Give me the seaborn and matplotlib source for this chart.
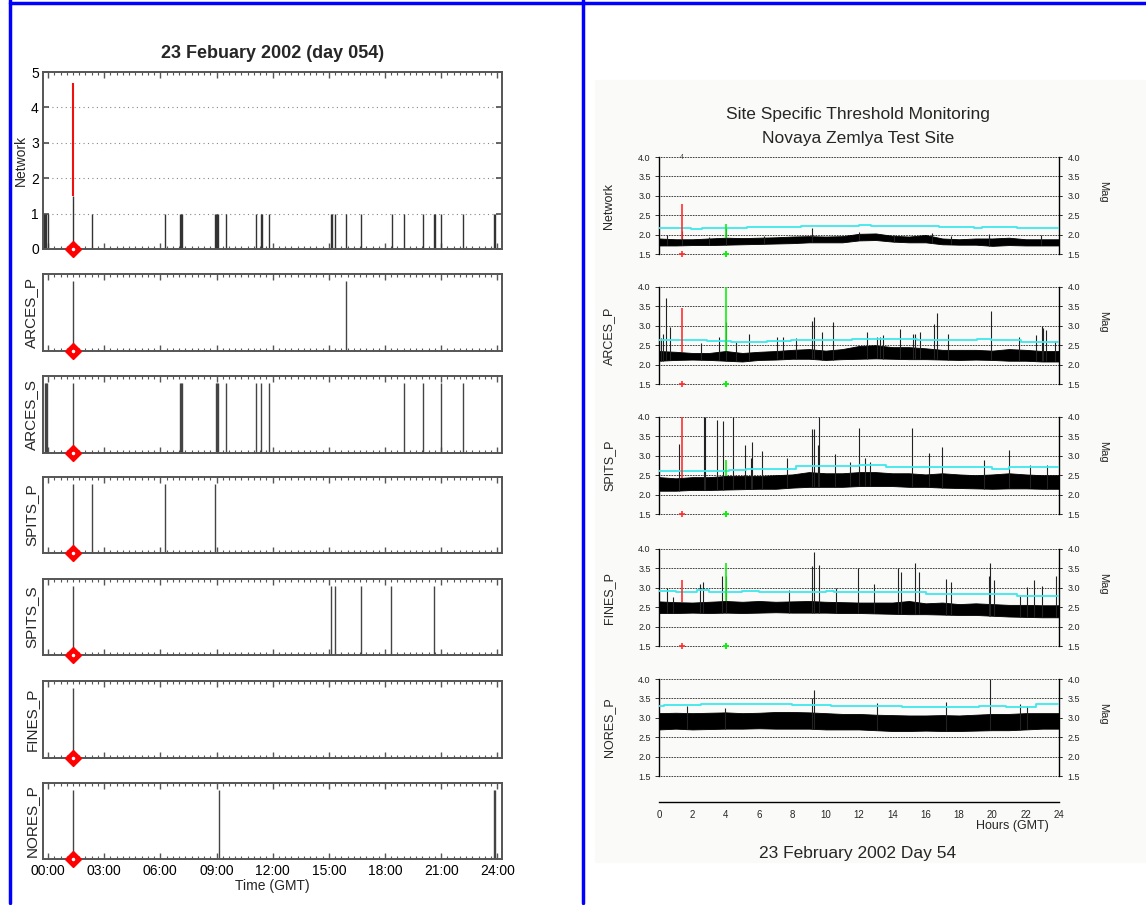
import numpy as np
import matplotlib
matplotlib.use("Agg")
import matplotlib.pyplot as plt
from matplotlib.patches import Rectangle
from matplotlib.lines import Line2D
from matplotlib.ticker import MultipleLocator
import seaborn as sns

sns.set_theme(style="white")
plt.rcParams['font.family'] = ['Liberation Sans', 'DejaVu Sans']

# ---------------- left side: detections per station ----------------
event_hour = 1.33
network_event_base = 1.5
network_event_top = 4.7

network_hours = [-0.21, -0.14, -0.09, 0.02, 2.35, 6.26, 7.03, 7.08, 7.17, 8.90, 8.95, 9.00,
                 9.09, 9.48, 11.12, 11.35, 11.42, 11.80, 15.12, 15.18, 15.34, 15.94, 16.73,
                 18.36, 19.04, 20.05, 20.60, 20.66, 21.01, 22.17, 23.81, 23.86]
arces_p_hours = [1.33, 15.93]
arces_s_hours = [-0.18, -0.11, -0.05, 1.33, 7.03, 7.08, 7.17, 8.95, 9.00, 9.07, 9.48,
                 11.12, 11.40, 11.80, 19.04, 20.05, 21.00, 22.17]
spits_p_hours = [1.33, 2.35, 6.26, 8.93]
spits_s_hours = [1.33, 15.12, 15.34, 16.73, 18.33, 20.60]
fines_p_hours = [1.33]
nores_p_hours = [1.33, 9.13, 23.81, 23.86]

left_names = ["ARCES_P", "ARCES_S", "SPITS_P", "SPITS_S", "FINES_P", "NORES_P"]
left_hours = [arces_p_hours, arces_s_hours, spits_p_hours, spits_s_hours, fines_p_hours, nores_p_hours]

# ---------------- right side: threshold monitoring (Mag) ----------------
hours = list(range(25))

net_low = [1.72, 1.72, 1.73, 1.73, 1.74, 1.75, 1.76, 1.77, 1.78, 1.80, 1.80, 1.80, 1.85,
           1.86, 1.82, 1.80, 1.80, 1.75, 1.74, 1.74, 1.71, 1.73, 1.72, 1.72, 1.72]
net_high = [1.90, 1.88, 1.88, 1.90, 1.92, 1.91, 1.92, 1.93, 1.95, 1.96, 1.95, 1.96, 2.02,
            2.03, 1.97, 1.95, 1.99, 1.90, 1.88, 1.90, 1.90, 1.92, 1.88, 1.88, 1.88]
net_thr_x = [0, 1.9, 2.6, 5.3, 8.5, 12.0, 12.7, 16.8, 18.9, 19.4, 20.6, 21.5, 24]
net_thr_y = [2.18, 2.14, 2.16, 2.20, 2.21, 2.24, 2.21, 2.19, 2.17, 2.19, 2.19, 2.16, 2.16]
net_spk_h = [1.36, 4.0, 9.2, 12.0, 16.4, 19.8, 22.9, 0.5, 3.0, 14.1, 6.3, 17.5]
net_spk_v = [2.10, 2.18, 2.18, 2.06, 2.03, 2.02, 2.00, 1.98, 1.95, 2.00, 1.97, 1.96]

arc_low = [2.10, 2.12, 2.13, 2.12, 2.10, 2.08, 2.12, 2.13, 2.15, 2.15, 2.12, 2.14, 2.15,
           2.16, 2.15, 2.14, 2.14, 2.13, 2.12, 2.13, 2.12, 2.10, 2.10, 2.08, 2.08]
arc_high = [2.35, 2.33, 2.30, 2.30, 2.35, 2.30, 2.33, 2.35, 2.38, 2.40, 2.36, 2.40, 2.48,
            2.50, 2.45, 2.45, 2.42, 2.38, 2.38, 2.38, 2.36, 2.40, 2.38, 2.35, 2.35]
arc_thr_x = [0, 2.9, 4.3, 6.5, 7.9, 9.9, 11.6, 15.5, 19.1, 19.9, 21.7, 24]
arc_thr_y = [2.63, 2.60, 2.59, 2.61, 2.63, 2.64, 2.66, 2.63, 2.65, 2.63, 2.59, 2.59]
arc_spk_h = [0.14, 0.24, 0.44, 0.66, 2.52, 3.58, 4.0, 4.62, 5.42, 7.10, 7.42, 8.22, 9.18,
             9.30, 9.78, 10.46, 12.46, 13.06, 13.26, 13.42, 14.46, 15.26, 15.36, 15.66,
             16.52, 16.66, 17.32, 19.92, 21.60, 22.60, 22.96, 23.06, 23.22, 23.76]
arc_spk_v = [2.68, 2.79, 3.72, 2.98, 2.55, 2.72, 3.10, 2.58, 2.80, 2.72, 2.70, 2.68, 3.12,
             3.23, 2.85, 3.10, 2.85, 2.72, 2.70, 2.75, 2.92, 2.80, 2.80, 2.85,
             3.05, 3.32, 2.80, 3.38, 2.70, 2.75, 3.00, 2.95, 2.90, 2.60]

spi_low = [2.10, 2.10, 2.12, 2.12, 2.13, 2.14, 2.15, 2.15, 2.18, 2.20, 2.20, 2.20, 2.22,
           2.22, 2.22, 2.20, 2.20, 2.18, 2.17, 2.16, 2.15, 2.16, 2.16, 2.15, 2.15]
spi_high = [2.45, 2.42, 2.45, 2.45, 2.48, 2.48, 2.48, 2.50, 2.52, 2.58, 2.55, 2.55, 2.58,
            2.58, 2.55, 2.55, 2.52, 2.55, 2.52, 2.50, 2.52, 2.55, 2.52, 2.50, 2.50]
spi_thr_x = [0, 1.0, 2.0, 4.2, 5.2, 8.2, 12.0, 13.6, 16.3, 20.0, 21.0, 24]
spi_thr_y = [2.62, 2.60, 2.62, 2.63, 2.67, 2.73, 2.75, 2.72, 2.70, 2.66, 2.70, 2.70]
spi_spk_h = [1.22, 2.70, 2.76, 3.50, 3.86, 4.42, 5.18, 5.54, 5.60, 6.20, 7.66, 9.16, 9.30,
             9.56, 9.60, 10.56, 11.46, 11.98, 12.36, 12.66, 15.20, 16.20, 16.96, 19.50,
             20.98, 22.26, 23.26]
spi_spk_v = [3.31, 4.00, 4.00, 3.92, 3.90, 4.00, 3.28, 2.95, 3.35, 3.12, 2.95, 3.68, 3.68,
             3.28, 4.00, 3.05, 2.85, 3.72, 2.95, 2.85, 3.72, 3.08, 3.22, 2.90,
             3.15, 2.75, 2.75]

fin_low = [2.35, 2.35, 2.36, 2.35, 2.36, 2.35, 2.36, 2.37, 2.36, 2.36, 2.36, 2.35, 2.35,
           2.34, 2.33, 2.32, 2.32, 2.31, 2.30, 2.30, 2.28, 2.26, 2.25, 2.24, 2.24]
fin_high = [2.65, 2.63, 2.62, 2.64, 2.66, 2.64, 2.66, 2.64, 2.65, 2.66, 2.64, 2.63, 2.62,
            2.62, 2.62, 2.66, 2.60, 2.62, 2.58, 2.60, 2.58, 2.56, 2.56, 2.55, 2.55]
fin_thr_x = [0, 1.0, 2.3, 3.0, 5.0, 6.0, 10.0, 10.5, 14.4, 16.0, 17.6, 21.5, 24]
fin_thr_y = [2.93, 2.90, 2.94, 2.90, 2.93, 2.90, 2.93, 2.88, 2.88, 2.85, 2.83, 2.79, 2.79]
fin_spk_h = [0.46, 0.82, 2.46, 2.62, 3.78, 4.0, 7.78, 9.16, 9.28, 9.58, 10.60, 11.92, 12.88,
             14.36, 14.50, 15.36, 15.62, 17.20, 17.50, 19.80, 19.86, 20.10, 21.66, 22.10,
             22.52, 23.00, 23.82]
fin_spk_v = [3.00, 2.75, 3.10, 3.15, 3.30, 3.30, 2.95, 3.55, 3.93, 3.60, 3.00, 3.50, 3.10,
             3.50, 3.40, 3.65, 3.40, 3.22, 3.15, 3.30, 3.65, 3.20, 2.80, 3.02,
             3.20, 3.05, 3.30]

nor_low = [2.70, 2.72, 2.70, 2.71, 2.72, 2.72, 2.73, 2.72, 2.72, 2.72, 2.70, 2.70, 2.70,
           2.68, 2.66, 2.66, 2.67, 2.66, 2.66, 2.67, 2.68, 2.68, 2.70, 2.72, 2.72]
nor_high = [3.12, 3.13, 3.12, 3.13, 3.14, 3.12, 3.13, 3.15, 3.15, 3.14, 3.12, 3.10, 3.10,
            3.08, 3.07, 3.06, 3.06, 3.07, 3.06, 3.08, 3.10, 3.10, 3.12, 3.12, 3.12]
nor_thr_x = [0, 0.3, 2.0, 2.5, 8.0, 10.3, 14.6, 19.2, 20.8, 22.6, 24]
nor_thr_y = [3.31, 3.34, 3.32, 3.36, 3.34, 3.31, 3.29, 3.31, 3.29, 3.35, 3.35]
nor_spk_h = [1.66, 3.96, 9.16, 9.30, 13.10, 17.22, 19.86, 21.66, 22.06]
nor_spk_v = [3.30, 3.25, 3.50, 3.72, 3.38, 3.42, 4.00, 3.35, 3.30]

right_names = ["Network", "ARCES_P", "SPITS_P", "FINES_P", "NORES_P"]
event_red = [2.78, 3.45, 4.00, 3.20, None]
event_green = [2.28, 4.00, 2.90, 3.65, None]

# ---------------- figure ----------------
W, H = 1146, 905
fig = plt.figure(figsize=(W / 100, H / 100), dpi=100)


def fx(px):
    return px / W


def fy(px):
    return 1 - px / H


# background box and blue frame lines
fig.patches.append(Rectangle((fx(595), fy(862)), fx(W - 595), (862 - 80) / H,
                             transform=fig.transFigure, color='#fafbf8', zorder=-5))
for xs, ys in [([10, 10], [0, 903]), ([583, 583], [0, 903]), ([10, W], [3, 3])]:
    fig.lines.append(Line2D([fx(x) for x in xs], [fy(y) for y in ys], color='#0000ff',
                            lw=2.5, transform=fig.transFigure))

spine_col = '#555555'
left_x0, left_w = fx(43), (502 - 43) / W
left_boxes = [(72, 249), (274, 351), (376, 453), (477, 553), (579, 655), (681, 758), (783, 859)]


def style_left(ax):
    ax.set_xlim(-0.27, 24.25)
    ax.set_facecolor('white')
    for s in ax.spines.values():
        s.set_color(spine_col)
        s.set_linewidth(1.4)
        s.set_visible(True)
    ax.xaxis.set_major_locator(MultipleLocator(3))
    ax.xaxis.set_minor_locator(MultipleLocator(1 / 3))
    ax.tick_params(axis='x', which='both', direction='in', top=True, bottom=True,
                   colors=spine_col, labelcolor='black')
    ax.tick_params(axis='x', which='major', length=4, width=1)
    ax.tick_params(axis='x', which='minor', length=2.5, width=0.8)
    ax.set_xticklabels([])
    ax.plot([event_hour], [0], marker='D', ms=8, color='red', clip_on=False, zorder=10)
    ax.plot([event_hour], [0], marker='o', ms=1.5, color='white', clip_on=False, zorder=11)


# Network panel
top, bot = left_boxes[0]
ax = fig.add_axes([left_x0, fy(bot), left_w, (bot - top) / H])
style_left(ax)
ax.set_ylim(0, 5)
ax.vlines(network_hours, 0, 1, color='#333333', lw=1.0)
ax.vlines([event_hour], 0, network_event_base, color='#333333', lw=1.0)
ax.vlines([event_hour], network_event_base, network_event_top, color='#ee1111', lw=1.5)
for y in [1, 2, 3, 4]:
    ax.axhline(y, color='#888888', ls=(0, (1, 3)), lw=0.8, zorder=0)
ax.set_yticks([0, 1, 2, 3, 4, 5])
ax.tick_params(axis='y', direction='in', left=True, right=True, length=4, colors=spine_col,
               labelcolor='black', labelsize=10, pad=3)
ax.set_ylabel('Network', fontsize=10)
ax.yaxis.set_label_coords(-0.033, 0.5)
ax.set_title('23 Febuary 2002 (day 054)', fontsize=13, fontweight='bold', pad=10)
ax.set_xticks(range(0, 25, 3))
ax.set_xticklabels([])

for i, (name, hrs) in enumerate(zip(left_names, left_hours)):
    top, bot = left_boxes[i + 1]
    ax = fig.add_axes([left_x0, fy(bot), left_w, (bot - top) / H])
    style_left(ax)
    ax.set_ylim(0, 1.1)
    ax.vlines(hrs, 0, 1, color='#444444', lw=1.0)
    ax.set_yticks([])
    ax.set_ylabel(name, fontsize=11)
    ax.yaxis.set_label_coords(-0.01, 0.5)
    if i == len(left_names) - 1:
        ax.set_xticks(range(0, 25, 3))
        ax.set_xticklabels([f"{h:02d}:00" for h in range(0, 25, 3)], fontsize=10)
        ax.set_xlabel('Time (GMT)', fontsize=10, labelpad=1)

# right side panels
right_x0, right_w = fx(659), 400 / W
right_boxes = [(157, 254), (287, 384), (417, 514), (549, 646), (679, 776)]
right_data = [
    (net_low, net_high, net_thr_x, net_thr_y, net_spk_h, net_spk_v),
    (arc_low, arc_high, arc_thr_x, arc_thr_y, arc_spk_h, arc_spk_v),
    (spi_low, spi_high, spi_thr_x, spi_thr_y, spi_spk_h, spi_spk_v),
    (fin_low, fin_high, fin_thr_x, fin_thr_y, fin_spk_h, fin_spk_v),
    (nor_low, nor_high, nor_thr_x, nor_thr_y, nor_spk_h, nor_spk_v),
]
ticks_mag = [1.5, 2.0, 2.5, 3.0, 3.5, 4.0]

for i, name in enumerate(right_names):
    low, high, tx, ty, sh, sv = right_data[i]
    top, bot = right_boxes[i]
    ax = fig.add_axes([right_x0, fy(bot), right_w, (bot - top) / H])
    ax.set_facecolor('none')
    ax.set_xlim(0, 24)
    ax.set_ylim(1.5, 4.0)
    for y in ticks_mag:
        ax.axhline(y, xmin=-0.01, xmax=1.01, color='#222222', ls=(0, (2, 1.2)), lw=0.6,
                   clip_on=False, zorder=1)
    ax.fill_between(hours, low, high, color='black', lw=0.6, zorder=3)
    base = np.interp(sh, hours, low)
    ax.vlines(sh, base, sv, color='#222222', lw=0.8, zorder=3)
    sns.lineplot(x=tx, y=ty, drawstyle='steps-post', color='#3ee8ee', lw=1.3, ax=ax,
                 zorder=4)
    if event_red[i] is not None:
        b = np.interp(1.38, hours, high)
        ax.vlines([1.38], b, event_red[i], color='#ff3030', lw=1.2, zorder=5)
        b = np.interp(4.0, hours, high)
        ax.vlines([4.0], b, event_green[i], color='#11ee11', lw=1.2, zorder=5)
        ax.plot([1.38], [1.5], marker='+', ms=5, mew=1.2, color='#ff3030', clip_on=False, zorder=6)
        ax.plot([4.0], [1.5], marker='+', ms=5, mew=1.4, color='#11ee11', clip_on=False, zorder=6)
    if i == 0:
        ax.text(1.38, 4.0, '4', fontsize=5, ha='center', va='center', color='#444444')
    for s in ['top', 'bottom']:
        ax.spines[s].set_visible(False)
    for s in ['left', 'right']:
        ax.spines[s].set_visible(True)
        ax.spines[s].set_color('black')
        ax.spines[s].set_linewidth(1.0)
    ax.set_xticks([])
    ax.set_yticks(ticks_mag)
    ax.set_yticklabels([f"{t:.1f}" for t in ticks_mag])
    ax.tick_params(axis='y', which='both', left=True, right=True, labelleft=True,
                   labelright=True, direction='out', length=2, width=0.6, labelsize=6.5,
                   pad=4)
    ax.set_xlabel('')
    ax.set_ylabel(name, fontsize=9)
    ax.yaxis.set_label_coords(-0.11, 0.5)
    ax.text(1.11, 0.64, 'Mag', transform=ax.transAxes, rotation=270, fontsize=8,
            ha='center', va='center')

# shared hour axis
hax = fig.add_axes([right_x0, fy(802), right_w, 0.0001])
hax.set_facecolor('none')
hax.set_xlim(0, 24)
for s in ['top', 'left', 'right']:
    hax.spines[s].set_visible(False)
hax.spines['bottom'].set_color('black')
hax.spines['bottom'].set_linewidth(1.0)
hax.set_yticks([])
hax.set_xticks(range(0, 25, 2))
hax.xaxis.set_minor_locator(MultipleLocator(0.5))
hax.tick_params(axis='x', which='major', direction='out', length=4, width=0.8, labelsize=7, pad=2)
hax.tick_params(axis='x', which='minor', direction='out', length=2, width=0.6)

fig.text(fx(1012), fy(826), 'Hours (GMT)', fontsize=9, ha='center', va='center')
fig.text(fx(858), fy(853), '23 February 2002 Day 54', fontsize=12.5, ha='center', va='center')
fig.text(fx(858), fy(115), 'Site Specific Threshold Monitoring', fontsize=12.5,
         ha='center', va='center')
fig.text(fx(858), fy(138), 'Novaya Zemlya Test Site', fontsize=12.5, ha='center', va='center')

fig.savefig('out.png', dpi=100, facecolor='white')
